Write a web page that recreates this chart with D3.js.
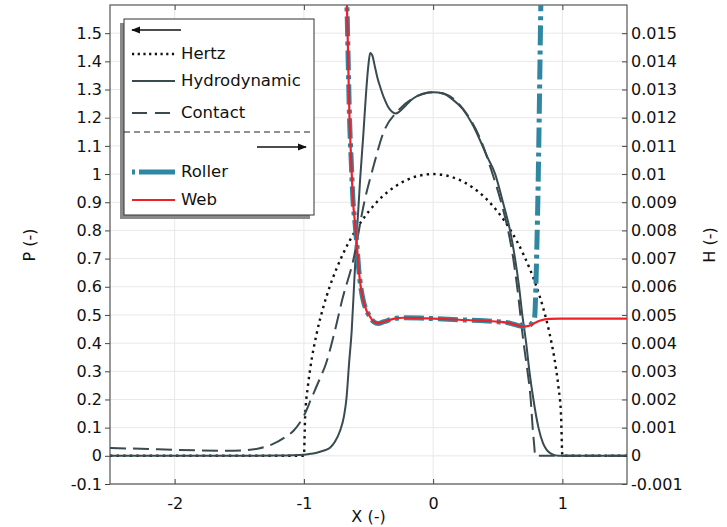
<!DOCTYPE html>
<html>
<head>
<meta charset="utf-8">
<script src="https://cdn.jsdelivr.net/npm/d3@7"></script>
<style>
  html, body { margin: 0; padding: 0; background: #fff; }
  svg { display: block; font-family: "DejaVu Sans", sans-serif; }
</style>
</head>
<body>
<svg id="chart" width="727" height="527"></svg>
<script>
// ---- data: dimensionless position X, pressure P (left axis), film thickness H (right axis)
const hertzX = [-2.5, -1.0, -0.99, -0.97, -0.95, -0.9, -0.85, -0.8, -0.7, -0.6, -0.5, -0.4, -0.3, -0.2, -0.1, 0,
                0.1, 0.2, 0.3, 0.4, 0.5, 0.6, 0.7, 0.8, 0.85, 0.9, 0.95, 0.97, 0.99, 1.0, 1.5];
const hertzP = [0, 0, 0.14, 0.243, 0.312, 0.436, 0.527, 0.6, 0.714, 0.8, 0.866, 0.917, 0.954, 0.98, 0.995, 1.0,
                0.995, 0.98, 0.954, 0.917, 0.866, 0.8, 0.714, 0.6, 0.527, 0.436, 0.312, 0.243, 0.14, 0, 0];

const hydroX = [-2.5, -1.5, -1.2, -1.0, -0.95, -0.9, -0.85, -0.8, -0.76, -0.72, -0.69, -0.67, -0.65, -0.63, -0.61,
                -0.59, -0.565, -0.54, -0.52, -0.5, -0.487, -0.47, -0.45, -0.43, -0.41, -0.38, -0.35, -0.32, -0.29,
                -0.26, -0.22, -0.155, -0.08, 0, 0.08, 0.15, 0.23, 0.3, 0.363, 0.42, 0.48, 0.54, 0.595, 0.634, 0.665,
                0.69, 0.72, 0.745, 0.776, 0.815, 0.85, 0.88, 0.92, 0.97, 1.5];
const hydroP = [0, 0, 0.001, 0.004, 0.007, 0.011, 0.018, 0.028, 0.05, 0.089, 0.14, 0.206, 0.33, 0.444, 0.62,
                0.79, 0.98, 1.14, 1.28, 1.39, 1.43, 1.42, 1.38, 1.34, 1.31, 1.27, 1.24, 1.222, 1.215,
                1.222, 1.24, 1.268, 1.285, 1.29, 1.285, 1.265, 1.23, 1.18, 1.12, 1.06, 1.0, 0.9, 0.8, 0.7, 0.6,
                0.5, 0.4, 0.3, 0.2, 0.1, 0.045, 0.02, 0.006, 0, 0];

const contactX = [-2.5, -2.2, -2.0, -1.8, -1.6, -1.45, -1.35, -1.25, -1.15, -1.08, -1.0, -0.94, -0.88, -0.83,
                  -0.76, -0.7, -0.62, -0.53, -0.46, -0.39, -0.26, -0.15, -0.05, 0, 0.05, 0.15, 0.25, 0.36, 0.46,
                  0.52, 0.58, 0.62, 0.65, 0.7, 0.73, 0.755, 0.77, 0.785, 0.788, 1.5];
const contactP = [0.028, 0.024, 0.021, 0.019, 0.018, 0.02, 0.026, 0.04, 0.065, 0.089, 0.142, 0.206, 0.27, 0.326,
                  0.444, 0.56, 0.69, 0.906, 1.03, 1.14, 1.23, 1.27, 1.288, 1.29, 1.289, 1.27, 1.22, 1.13, 1.0,
                  0.91, 0.8, 0.7, 0.6, 0.4, 0.3, 0.2, 0.1, 0.02, 0, 0];

const rollerX = [-0.674, -0.667, -0.657, -0.647, -0.634, -0.62, -0.605, -0.59, -0.575, -0.56, -0.54, -0.515, -0.49,
                 -0.46, -0.425, -0.38, -0.3, -0.23, -0.1, 0, 0.2, 0.36, 0.5, 0.6, 0.66, 0.7, 0.73, 0.755, 0.772,
                 0.785, 0.795, 0.803, 0.812, 0.82, 0.83, 0.836];
const rollerH = [0.0168, 0.016, 0.014, 0.012, 0.0105, 0.00906, 0.0083, 0.0075, 0.0066, 0.006, 0.0055, 0.00515, 0.00495,
                 0.00476, 0.0047, 0.00476, 0.00487, 0.0049, 0.00489, 0.00487, 0.00483, 0.0048, 0.00476, 0.0047, 0.00462, 0.00459, 0.0046, 0.00466, 0.00476,
                 0.0049, 0.006, 0.0075, 0.0095, 0.0118, 0.015, 0.0168];

const webX = [-0.674, -0.667, -0.657, -0.647, -0.634, -0.62, -0.605, -0.59, -0.575, -0.56, -0.54, -0.515, -0.49,
              -0.46, -0.425, -0.38, -0.3, -0.23, -0.1, 0, 0.2, 0.36, 0.5, 0.6, 0.66, 0.7, 0.74, 0.78, 0.83,
              0.9, 0.98, 1.5];
const webH = [0.0168, 0.016, 0.014, 0.012, 0.0105, 0.00906, 0.0083, 0.0075, 0.0066, 0.006, 0.0055, 0.00515, 0.00495,
              0.00476, 0.0047, 0.00476, 0.00487, 0.0049, 0.00489, 0.00487, 0.00483, 0.0048, 0.00476, 0.0047, 0.00462,
              0.00459, 0.00461, 0.0047, 0.0048, 0.00486, 0.00487, 0.00487];

const xTicks = [-2, -1, 0, 1];
const pTicks = [-0.1, 0, 0.1, 0.2, 0.3, 0.4, 0.5, 0.6, 0.7, 0.8, 0.9, 1, 1.1, 1.2, 1.3, 1.4, 1.5];
const hTicks = [-0.001, 0, 0.001, 0.002, 0.003, 0.004, 0.005, 0.006, 0.007, 0.008, 0.009, 0.01, 0.011,
                0.012, 0.013, 0.014, 0.015];
const legendLeft = ["Hertz", "Hydrodynamic", "Contact"];
const legendRight = ["Roller", "Web"];

// ---- layout
const plot = { left: 110, right: 627, top: 5, bottom: 484 };
const svg = d3.select("#chart");

const x = d3.scaleLinear().domain([-2.5, 1.5]).range([plot.left, plot.right]);
const yP = d3.scaleLinear().domain([-0.1, 1.6]).range([plot.bottom, plot.top]);
const yH = d3.scaleLinear().domain([-0.001, 0.016]).range([plot.bottom, plot.top]);

const colSlate = "#394a50";
const colTeal = "#2f87a2";
const colRed = "#ee2028";
const fontSize = 16;

// grid
const grid = svg.append("g");
grid.selectAll("line.gx").data(xTicks).join("line")
  .attr("x1", d => x(d)).attr("x2", d => x(d))
  .attr("y1", plot.top).attr("y2", plot.bottom)
  .attr("stroke", "#e8e8e8").attr("stroke-width", 1);
grid.selectAll("line.gy").data(pTicks).join("line")
  .attr("x1", plot.left).attr("x2", plot.right)
  .attr("y1", d => yP(d)).attr("y2", d => yP(d))
  .attr("stroke", "#e8e8e8").attr("stroke-width", 1);

// axes (plain hyphen for negative numbers)
const axisStyle = g => {
  g.select(".domain").remove();
  g.selectAll("line").attr("stroke", "#444");
  g.selectAll("text").attr("fill", "#111").style("font-size", fontSize + "px")
    .style("font-family", "'DejaVu Sans', sans-serif");
};
const plain = v => String(+v.toFixed(3));

svg.append("g").attr("transform", `translate(0,${plot.bottom})`)
  .call(d3.axisBottom(x).tickValues(xTicks).tickSizeInner(-5).tickSizeOuter(0).tickPadding(14).tickFormat(plain))
  .call(axisStyle);
svg.append("g").attr("transform", `translate(0,${plot.top})`)
  .call(d3.axisTop(x).tickValues(xTicks).tickSizeInner(-5).tickSizeOuter(0).tickFormat(""))
  .call(axisStyle);
svg.append("g").attr("transform", `translate(${plot.left},0)`)
  .call(d3.axisLeft(yP).tickValues(pTicks).tickSize(5).tickPadding(3).tickFormat(plain))
  .call(axisStyle);
svg.append("g").attr("transform", `translate(${plot.right},0)`)
  .call(d3.axisRight(yH).tickValues(hTicks).tickSizeInner(-5).tickSizeOuter(0).tickPadding(4).tickFormat(plain))
  .call(axisStyle);

// frame
svg.append("rect")
  .attr("x", plot.left).attr("y", plot.top)
  .attr("width", plot.right - plot.left).attr("height", plot.bottom - plot.top)
  .attr("fill", "none").attr("stroke", "#555").attr("stroke-width", 1.2);

// axis titles
svg.append("text").attr("x", (plot.left + plot.right) / 2).attr("y", 517)
  .attr("text-anchor", "middle").attr("dominant-baseline", "middle")
  .style("font-size", fontSize + "px").attr("fill", "#111").text("X (-)");
svg.append("text").attr("transform", "translate(30,245) rotate(-90)")
  .attr("text-anchor", "middle").attr("dominant-baseline", "middle")
  .style("font-size", fontSize + "px").attr("fill", "#111").text("P (-)");
svg.append("text").attr("transform", "translate(710,245) rotate(-90)")
  .attr("text-anchor", "middle").attr("dominant-baseline", "middle")
  .style("font-size", fontSize + "px").attr("fill", "#111").text("H (-)");

// curves
svg.append("clipPath").attr("id", "clip").append("rect")
  .attr("x", plot.left).attr("y", plot.top)
  .attr("width", plot.right - plot.left).attr("height", plot.bottom - plot.top);
const curves = svg.append("g").attr("clip-path", "url(#clip)");

const lineP = d3.line().x(d => x(d[0])).y(d => yP(d[1])).curve(d3.curveMonotoneX);
const lineH = d3.line().x(d => x(d[0])).y(d => yH(d[1])).curve(d3.curveMonotoneX);
const zip = (a, b) => a.map((v, i) => [v, b[i]]);

const styles = {
  Hertz:        { stroke: "#111", width: 2.4, dash: "2.4,4.2" },
  Hydrodynamic: { stroke: colSlate, width: 2, dash: null },
  Contact:      { stroke: colSlate, width: 2, dash: "16,7" },
  Roller:       { stroke: colTeal, width: 5, dash: "20,5,4,5" },
  Web:          { stroke: colRed, width: 2.2, dash: null }
};

const drawSeries = (gen, pts, s) => curves.append("path")
  .attr("d", gen(pts)).attr("fill", "none")
  .attr("stroke", s.stroke).attr("stroke-width", s.width)
  .attr("stroke-dasharray", s.dash).attr("stroke-linejoin", "round");

drawSeries(lineP, zip(hertzX, hertzP), styles.Hertz);
drawSeries(lineP, zip(contactX, contactP), styles.Contact);
drawSeries(lineP, zip(hydroX, hydroP), styles.Hydrodynamic);
drawSeries(lineH, zip(rollerX, rollerH), styles.Roller);
drawSeries(lineH, zip(webX, webH), styles.Web);

// legend
const lg = { x: 124, y: 19, w: 190, h: 196 };
svg.append("rect").attr("x", lg.x - 4).attr("y", lg.y + 4).attr("width", lg.w).attr("height", lg.h)
  .attr("fill", "#8a8a8a");
svg.append("rect").attr("x", lg.x).attr("y", lg.y).attr("width", lg.w).attr("height", lg.h)
  .attr("fill", "#fff").attr("stroke", "#333").attr("stroke-width", 1);

const defs = svg.append("defs");
defs.append("marker").attr("id", "arrowhead").attr("viewBox", "0 0 10 10")
  .attr("refX", 9).attr("refY", 5).attr("markerWidth", 7).attr("markerHeight", 7)
  .attr("orient", "auto-start-reverse")
  .append("path").attr("d", "M0,1 L10,5 L0,9 Z").attr("fill", "#111");

svg.append("line").attr("x1", 181).attr("x2", 132).attr("y1", 30).attr("y2", 30)
  .attr("stroke", "#111").attr("stroke-width", 1.3).attr("marker-end", "url(#arrowhead)");
svg.append("line").attr("x1", lg.x).attr("x2", lg.x + lg.w).attr("y1", 132).attr("y2", 132)
  .attr("stroke", "#222").attr("stroke-width", 1).attr("stroke-dasharray", "6,4");
svg.append("line").attr("x1", 257).attr("x2", 306).attr("y1", 147).attr("y2", 147)
  .attr("stroke", "#111").attr("stroke-width", 1.3).attr("marker-end", "url(#arrowhead)");

const legendRows = [
  { name: legendLeft[0], y: 54 },
  { name: legendLeft[1], y: 81 },
  { name: legendLeft[2], y: 113 },
  { name: legendRight[0], y: 172 },
  { name: legendRight[1], y: 200 }
];
const legendDash = { Hertz: "2.2,3.5", Contact: "15,8", Roller: "3,4,40" };
const lr = svg.append("g").selectAll("g").data(legendRows).join("g");
lr.append("line").attr("x1", 132).attr("x2", 175)
  .attr("y1", d => d.y).attr("y2", d => d.y)
  .attr("stroke", d => styles[d.name].stroke)
  .attr("stroke-width", d => styles[d.name].width)
  .attr("stroke-dasharray", d => legendDash[d.name] || null);
lr.append("text").attr("x", 181).attr("y", d => d.y)
  .attr("dominant-baseline", "middle").style("font-size", "16.5px").attr("fill", "#111")
  .text(d => d.name);
</script>
</body>
</html>
